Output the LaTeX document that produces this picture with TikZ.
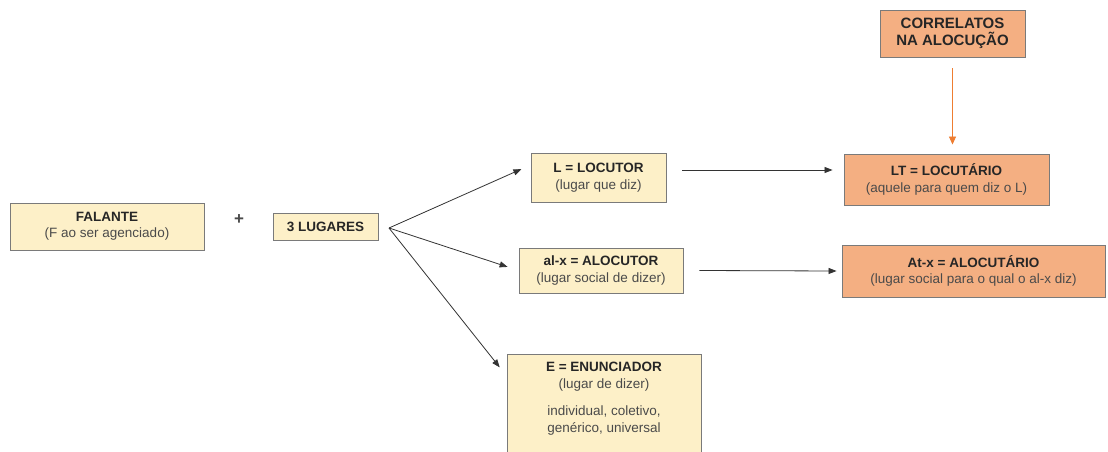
\documentclass[tikz,border=0pt]{standalone}
\usepackage{fontspec}
\setmainfont{Liberation Sans}
\usetikzlibrary{arrows.meta,calc}
\definecolor{yfill}{HTML}{FDF0C8}
\definecolor{ofill}{HTML}{F4AF82}
\definecolor{bord}{HTML}{7A7A7A}
\definecolor{tdark}{HTML}{262626}
\definecolor{tsub}{HTML}{4A4A4A}
\definecolor{oarrow}{HTML}{EE7D31}
\newcommand{\subt}[1]{\textcolor{tsub}{#1}}
\tikzset{
  box/.style={draw=bord, line width=0.9pt, align=center, inner sep=0pt, text=tdark,
    font=\fontsize{13.5}{16.5}\selectfont},
  ybox/.style={box, fill=yfill},
  obox/.style={box, fill=ofill},
  arr/.style={draw=black!80, line width=0.8pt, -{Triangle[length=8pt,width=6pt]}},
  oarr/.style={draw=oarrow, line width=0.8pt, -{Triangle[length=8pt,width=7pt]}},
}
\begin{document}
\begin{tikzpicture}[x=1pt,y=1pt]
\useasboundingbox (0,0) rectangle (1108,451);
\clip (0,0) rectangle (1108,451);
\fill[white] (0,0) rectangle (1108,451);

\node[ybox, minimum width=194pt, minimum height=47pt] (F) at (107,224.5)
  {\textbf{FALANTE}\\\subt{(F ao ser agenciado)}};
\node[font=\fontsize{17}{17}\selectfont\bfseries, text=tsub] (plus) at (239,231) {+};
\node[ybox, minimum width=105pt, minimum height=27pt] (G) at (325.5,224.5)
  {\textbf{3 LUGARES}};
\coordinate (src) at (389,223);

\node[ybox, minimum width=135pt, minimum height=49pt] (L) at (598.5,273.5)
  {\textbf{L = LOCUTOR}\\\subt{(lugar que diz)}};
\node[ybox, minimum width=164pt, minimum height=45pt] (A) at (601,180.5)
  {\textbf{al-x = ALOCUTOR}\\\subt{(lugar social de dizer)}};
\node[ybox, anchor=north, minimum width=194pt, minimum height=120pt] (E) at (604,97) {};
\node[anchor=north, align=center, inner sep=0pt, text=tdark,
  font=\fontsize{13.5}{17}\selectfont] (Et) at ([yshift=-8pt]E.north)
  {\textbf{E = ENUNCIADOR}\\\subt{(lugar de dizer)}\\[10pt]\subt{individual, coletivo,}\\\subt{genérico, universal}};

\node[obox, minimum width=205pt, minimum height=51pt] (LT) at (946.5,271.5)
  {\textbf{LT = LOCUTÁRIO}\\\subt{(aquele para quem diz o L)}};
\node[obox, minimum width=263pt, minimum height=52pt] (At) at (973.5,180)
  {\textbf{At-x = ALOCUTÁRIO}\\\subt{(lugar social para o qual o al-x diz)}};
\node[obox, minimum width=145pt, minimum height=47pt,
  font=\fontsize{15}{17}\selectfont\bfseries] (C) at (952.5,417.5)
  {CORRELATOS\\NA ALOCUÇÃO};

\draw[arr, shorten >=10pt] (src) -- ($(L.west)!0.5!(L.north west)$);
\draw[arr, shorten >=11.5pt] (src) -- (A.west);
\draw[arr, shorten >=11pt] (src) -- ($(E.north west)+(0,-22)$);
\draw[arr] ([xshift=16pt,yshift=7.5pt]L.east) -- ([xshift=-11pt,yshift=9.5pt]LT.west);
\draw[arr] ([xshift=16pt]A.east) -- ([xshift=-5pt]At.west);
\draw[oarr, shorten <=11pt, shorten >=9pt] (C.south) -- (C.south |- LT.north);
\end{tikzpicture}
\end{document}
